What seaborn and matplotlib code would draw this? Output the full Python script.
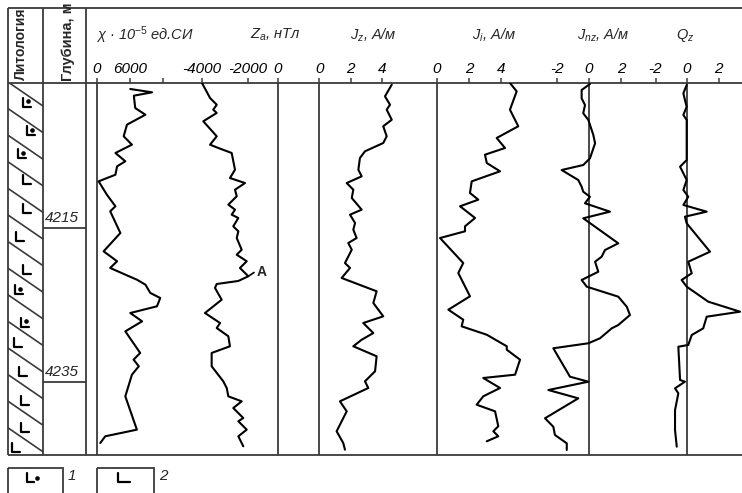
import matplotlib
matplotlib.use("Agg")
import numpy as np
import matplotlib.pyplot as plt
import seaborn as sns
from matplotlib.patches import Rectangle

W, H = 742, 493

# ---------------- data (depth in m) ----------------
chi_depth = [4196.95, 4197.38, 4197.82, 4199.42, 4200.29, 4201.58, 4203.09, 4204.18, 4205.26,
             4206.34, 4206.99, 4208.08, 4208.94, 4210.68, 4212.18, 4212.83, 4215.65, 4218.03,
             4219.32, 4220.19, 4221.06, 4221.71, 4222.36, 4223.44, 4224.09, 4225.17, 4226.04,
             4227.12, 4228.42, 4231.23, 4232.10, 4232.96, 4234.05, 4236.86, 4241.19, 4242.05,
             4242.92]
chi_val = [6050, 10000, 6700, 6950, 8800, 5450, 4850, 6350, 3350,
           5150, 3650, 3350, 300, 1800, 3350, 2400, 4250, 1200,
           3650, 2400, 5150, 7250, 8800, 9700, 11500, 10900, 6050,
           8200, 5150, 7850, 6650, 7600, 6350, 5150, 7250, 1500,
           600]

za_depth = [4196.17, 4198.12, 4198.99, 4199.64, 4200.06, 4201.14, 4203.09, 4204.18, 4204.61,
            4205.26, 4207.43, 4208.51, 4209.16, 4210.03, 4210.88, 4211.97, 4212.62, 4213.27,
            4213.70, 4214.78, 4215.43, 4216.30, 4217.82, 4218.47, 4219.32, 4220.19, 4221.27,
            4221.88, 4222.27, 4222.79, 4224.31, 4226.04, 4227.34, 4227.99, 4229.06, 4230.36,
            4231.23, 4232.96, 4234.91, 4235.78, 4236.86, 4237.51, 4238.38, 4239.68, 4240.10,
            4241.19, 4242.05, 4243.35]
za_val = [-4000, -3650, -3360, -3510, -3360, -3945, -3360, -3650, -3290,
          -2710, -2565, -2785, -2130, -2565, -2490, -2855, -2565, -2710,
          -2420, -2640, -2420, -2490, -2275, -2490, -2055, -2350, -1980,
          -2420, -3360, -3435, -3145, -3870, -3215, -3360, -2855, -2785,
          -3580, -3580, -3075, -2925, -2855, -2275, -2640, -2205, -2420,
          -2055, -2420, -2205]

jz_depth = [4196.39, 4197.90, 4198.99, 4199.64, 4200.94, 4201.79, 4203.09, 4203.96, 4205.04,
            4205.91, 4207.43, 4208.29, 4209.16, 4210.03, 4211.10, 4212.62, 4213.27, 4214.35,
            4215.22, 4216.30, 4216.95, 4217.82, 4219.55, 4220.19, 4221.49, 4223.22, 4224.74,
            4226.47, 4227.34, 4228.64, 4229.51, 4230.36, 4231.66, 4233.61, 4234.91, 4235.78,
            4237.51, 4238.81, 4241.40, 4242.92, 4243.79]
jz_val = [4.60, 4.17, 4.49, 4.28, 4.60, 4.06, 4.28, 4.06, 2.90,
          2.58, 2.48, 2.69, 1.74, 2.16, 2.06, 2.69, 1.95, 2.27,
          2.16, 2.37, 1.84, 2.06, 1.63, 1.95, 1.42, 3.64, 3.43,
          4.06, 2.79, 3.43, 2.69, 2.16, 3.64, 3.54, 2.90, 3.11,
          1.31, 1.74, 1.10, 1.52, 1.63]

ji_depth = [4196.17, 4197.25, 4199.64, 4201.79, 4203.31, 4204.61, 4205.48, 4206.56, 4207.64,
            4208.94, 4210.45, 4211.32, 4212.18, 4213.70, 4214.78, 4215.43, 4216.30, 4219.55,
            4220.84, 4223.87, 4225.61, 4226.91, 4227.77, 4228.86, 4230.36, 4230.81, 4232.10,
            4234.05, 4234.48, 4235.78, 4236.86, 4237.95, 4238.81, 4240.75, 4241.40, 4242.05,
            4242.70]
ji_val = [4.56, 4.98, 4.56, 5.08, 3.73, 4.25, 3.00, 3.11, 3.94,
          2.17, 2.06, 2.58, 1.44, 2.38, 1.75, 1.75, 0.19, 1.64,
          1.33, 2.06, 0.71, 1.64, 1.54, 3.11, 4.36, 4.36, 5.19,
          4.88, 2.89, 3.94, 2.89, 2.48, 3.63, 3.83, 3.52, 3.83,
          3.11]

jnz_depth = [4196.30, 4197.08, 4198.16, 4199.03, 4200.10, 4200.97, 4202.92, 4204.00, 4205.95,
             4206.82, 4207.47, 4208.77, 4209.64, 4210.29, 4210.94, 4211.79, 4212.88, 4213.74,
             4216.99, 4217.86, 4218.73, 4219.38, 4220.68, 4221.32, 4221.75, 4222.62, 4223.92,
             4225.22, 4226.30, 4227.60, 4228.03, 4229.32, 4229.97, 4230.62, 4234.31, 4234.96,
             4236.04, 4237.12, 4239.71, 4240.81, 4241.88, 4242.96, 4243.83]
jnz_val = [0.06, -0.46, -0.46, -0.25, -0.36, -0.04, 0.27, 0.38, 0.06,
           -0.36, -1.71, -0.67, -0.46, -0.36, 0.06, -0.25, 1.31, -0.36,
           1.83, 1.00, 0.79, 0.38, 0.58, -0.04, -0.46, -0.14, 1.83,
           2.36, 2.56, 1.83, 1.42, 0.69, -0.04, -2.23, -1.19, -0.04,
           -2.54, -0.67, -2.75, -2.23, -2.13, -1.39, -1.39]

qz_depth = [4196.43, 4197.51, 4198.38, 4199.25, 4200.32, 4200.97, 4206.17, 4207.04, 4207.90,
            4208.77, 4210.06, 4210.94, 4212.01, 4212.88, 4213.53, 4214.39, 4218.08, 4219.38,
            4220.88, 4221.75, 4222.62, 4224.57, 4225.87, 4226.52, 4228.03, 4228.90, 4230.19,
            4230.42, 4234.74, 4234.96, 4235.82, 4236.47, 4238.64, 4241.23, 4243.40]
qz_val = [-0.02, -0.23, -0.13, -0.02, -0.23, -0.02, -0.02, -0.44, -0.23,
          -0.02, -0.23, 0.08, -0.23, 1.25, -0.13, -0.02, 1.46, 0.08,
          0.30, -0.34, -0.02, 1.35, 3.37, 1.25, 1.03, 0.30, 0.08,
          -0.55, -0.44, -0.13, -0.76, -0.55, -0.76, -0.76, -0.65]

depth_marks = [4215, 4235]

# lithology symbols: depth, kind (1 = with dot, 2 = plain)
lith_depth = [4198.64, 4202.40, 4205.39, 4208.64, 4212.53, 4216.04, 4220.45,
              4223.05, 4227.21, 4229.81, 4233.70, 4237.34, 4240.97, 4243.57]
lith_kind = [1, 1, 1, 2, 2, 2, 2, 1, 1, 2, 2, 2, 2, 2]

legend_labels = ["1", "2"]

track_titles = [r"$\chi$ · 10$^{-5}$ ед.СИ", r"Z$_a$, нТл", r"J$_z$, А/м",
                r"J$_i$, А/м", r"J$_{nz}$, А/м", r"Q$_z$"]

# point A on the Za curve
a_depth, a_val = 4220.71, -1067

# ---------------- style ----------------
sns.set_style("white")
plt.rcParams["font.family"] = ["Liberation Sans", "DejaVu Sans"]
plt.rcParams["mathtext.fontset"] = "custom"
plt.rcParams["mathtext.rm"] = "Liberation Sans"
plt.rcParams["mathtext.it"] = "Liberation Sans:italic"
plt.rcParams["mathtext.bf"] = "Liberation Sans:bold"

LC = "#3a3a3a"
TOP_D, BOT_D = 4196.17, 4244.48
PX_PER_M = 7.7

fig = plt.figure(figsize=(W / 100, H / 100), dpi=100)


def fig_rect(x0, y0, x1, y1):
    return [x0 / W, 1 - y1 / H, (x1 - x0) / W, (y1 - y0) / H]


# background / frame axes in pixel units
bg = fig.add_axes([0, 0, 1, 1], label="bg")
bg.set_xlim(0, W)
bg.set_ylim(H, 0)
bg.axis("off")
for y in (8, 83, 455):
    bg.plot([8, W], [y, y], color=LC, lw=1.3, solid_capstyle="butt")
for x in (8, 43, 86):
    bg.plot([x, x], [8, 455], color=LC, lw=1.3, solid_capstyle="butt")

bg.text(21, 80, "Литология", rotation=90, ha="center", va="bottom",
        fontsize=10, fontweight="bold")
bg.text(68, 81, "Глубина, м", rotation=90, ha="center", va="bottom",
        fontsize=10.5, fontweight="bold")

title_x = [96, 250, 350, 472, 577, 676]
for tx, tt in zip(title_x, track_titles):
    bg.text(tx, 35, tt, ha="left", va="center", fontsize=10.5, fontstyle="italic")

# legend
box_x = [(8, 63), (97, 154)]
for (x0, x1), lab in zip(box_x, legend_labels):
    bg.add_patch(Rectangle((x0, 468), x1 - x0, 40, fill=False, ec=LC, lw=1.3))
    bg.text(x1 + 5, 476, lab, ha="left", va="center", fontsize=11, fontstyle="italic")
bg.plot([27, 27, 34], [473, 482, 482], color="black", lw=1.6)
bg.plot([37], [478], "o", ms=2.3, color="black")
bg.plot([118, 118, 130], [473, 482, 482], color="black", lw=1.6)

# lithology column
axl = fig.add_axes(fig_rect(8, 83, 43, 455), label="lith")
axl.set_xlim(0, 35)
axl.set_ylim(BOT_D, TOP_D)
axl.axis("off")
step = 26.6 / PX_PER_M
drop = 24 / PX_PER_M
d_right = TOP_D + (106 - 83) / PX_PER_M - step
while d_right - drop < BOT_D:
    axl.plot([0, 35], [d_right - drop, d_right], color=LC, lw=1.2)
    d_right += step
lith_x = [15, 19, 10, 15, 15, 8, 15, 7, 13, 6, 11, 13, 13, 4]
h = 4.5 / PX_PER_M
for d, k, xl in zip(lith_depth, lith_kind, lith_x):
    axl.plot([xl, xl, xl + 8], [d - h, d + h, d + h], color="black", lw=1.6)
    if k == 1:
        axl.plot([xl + 5], [d - 0.1], "o", ms=2.3, color="black")

# depth column
axd = fig.add_axes(fig_rect(43, 83, 86, 455), label="depth")
axd.set_xlim(0, 43)
axd.set_ylim(BOT_D, TOP_D)
axd.axis("off")
for dm in depth_marks:
    axd.plot([0, 43], [dm, dm], color=LC, lw=1.3)
    axd.text(2, dm - 0.35, str(dm), ha="left", va="bottom", fontsize=11, fontstyle="italic")


# Za axis of the original is drawn with uneven tick spacing: reproduce it
def za_fwd(v):
    v = np.asarray(v, dtype=float)
    return np.where(v <= -2000, 248 + (v + 2000) * 0.023, 248 + (v + 2000) * 0.015)


def za_inv(p):
    p = np.asarray(p, dtype=float)
    return np.where(p <= 248, -2000 + (p - 248) / 0.023, -2000 + (p - 248) / 0.015)


# curve tracks: (depths, values, zero pixel, px per unit, ticks, labels)
tracks = [
    (chi_depth, chi_val, 97, 33 / 6000, [0, 6000, 12000], ["0", "6000", ""]),
    (za_depth, za_val, None, None, [-4000, -2000, 0], ["-4000", "-2000", "0"]),
    (jz_depth, jz_val, 319.3, 15.75, [0, 2, 4], ["0", "2", "4"]),
    (ji_depth, ji_val, 437, 16, [0, 2, 4], ["0", "2", "4"]),
    (jnz_depth, jnz_val, 589, 16, [-2, 0, 2], ["-2", "0", "2"]),
    (qz_depth, qz_val, 687, 15.75, [-2, 0, 2], ["-2", "0", "2"]),
]

axes = []
for i, (dep, val, zero, s, ticks, labels) in enumerate(tracks):
    ax = fig.add_axes(fig_rect(86, 83, W, 455), label=f"trk{i}")
    ax.set_facecolor("none")
    if zero is None:
        ax.set_xscale("function", functions=(za_fwd, za_inv))
    ax.axvline(0, color=LC, lw=1.3, zorder=1)
    sns.lineplot(x=val, y=dep, sort=False, estimator=None, color="black",
                 lw=1.5, ax=ax, zorder=3)
    if zero is None:
        ax.set_xlim(float(za_inv(86)), float(za_inv(W)))
    else:
        ax.set_xlim((86 - zero) / s, (W - zero) / s)
    ax.set_ylim(BOT_D, TOP_D)
    for sp in ax.spines.values():
        sp.set_visible(False)
    ax.xaxis.tick_top()
    ax.set_xticks(ticks)
    ax.set_xticklabels(labels, fontsize=11, fontstyle="italic")
    ax.tick_params(axis="x", which="both", direction="out", length=3.5, width=1.1, pad=1.5,
                   color=LC, labelcolor="black")
    ax.xaxis.set_minor_locator(matplotlib.ticker.NullLocator())
    ax.set_yticks([])
    ax.set_xlabel("")
    ax.set_ylabel("")
    axes.append(ax)

axz = axes[1]
axz.plot([-1980, -1600], [4221.27, 4220.78], color="black", lw=1.2)
axz.text(a_val, a_depth, "A", ha="center", va="center", fontsize=10, fontweight="bold")

fig.savefig("out.png", dpi=100)
